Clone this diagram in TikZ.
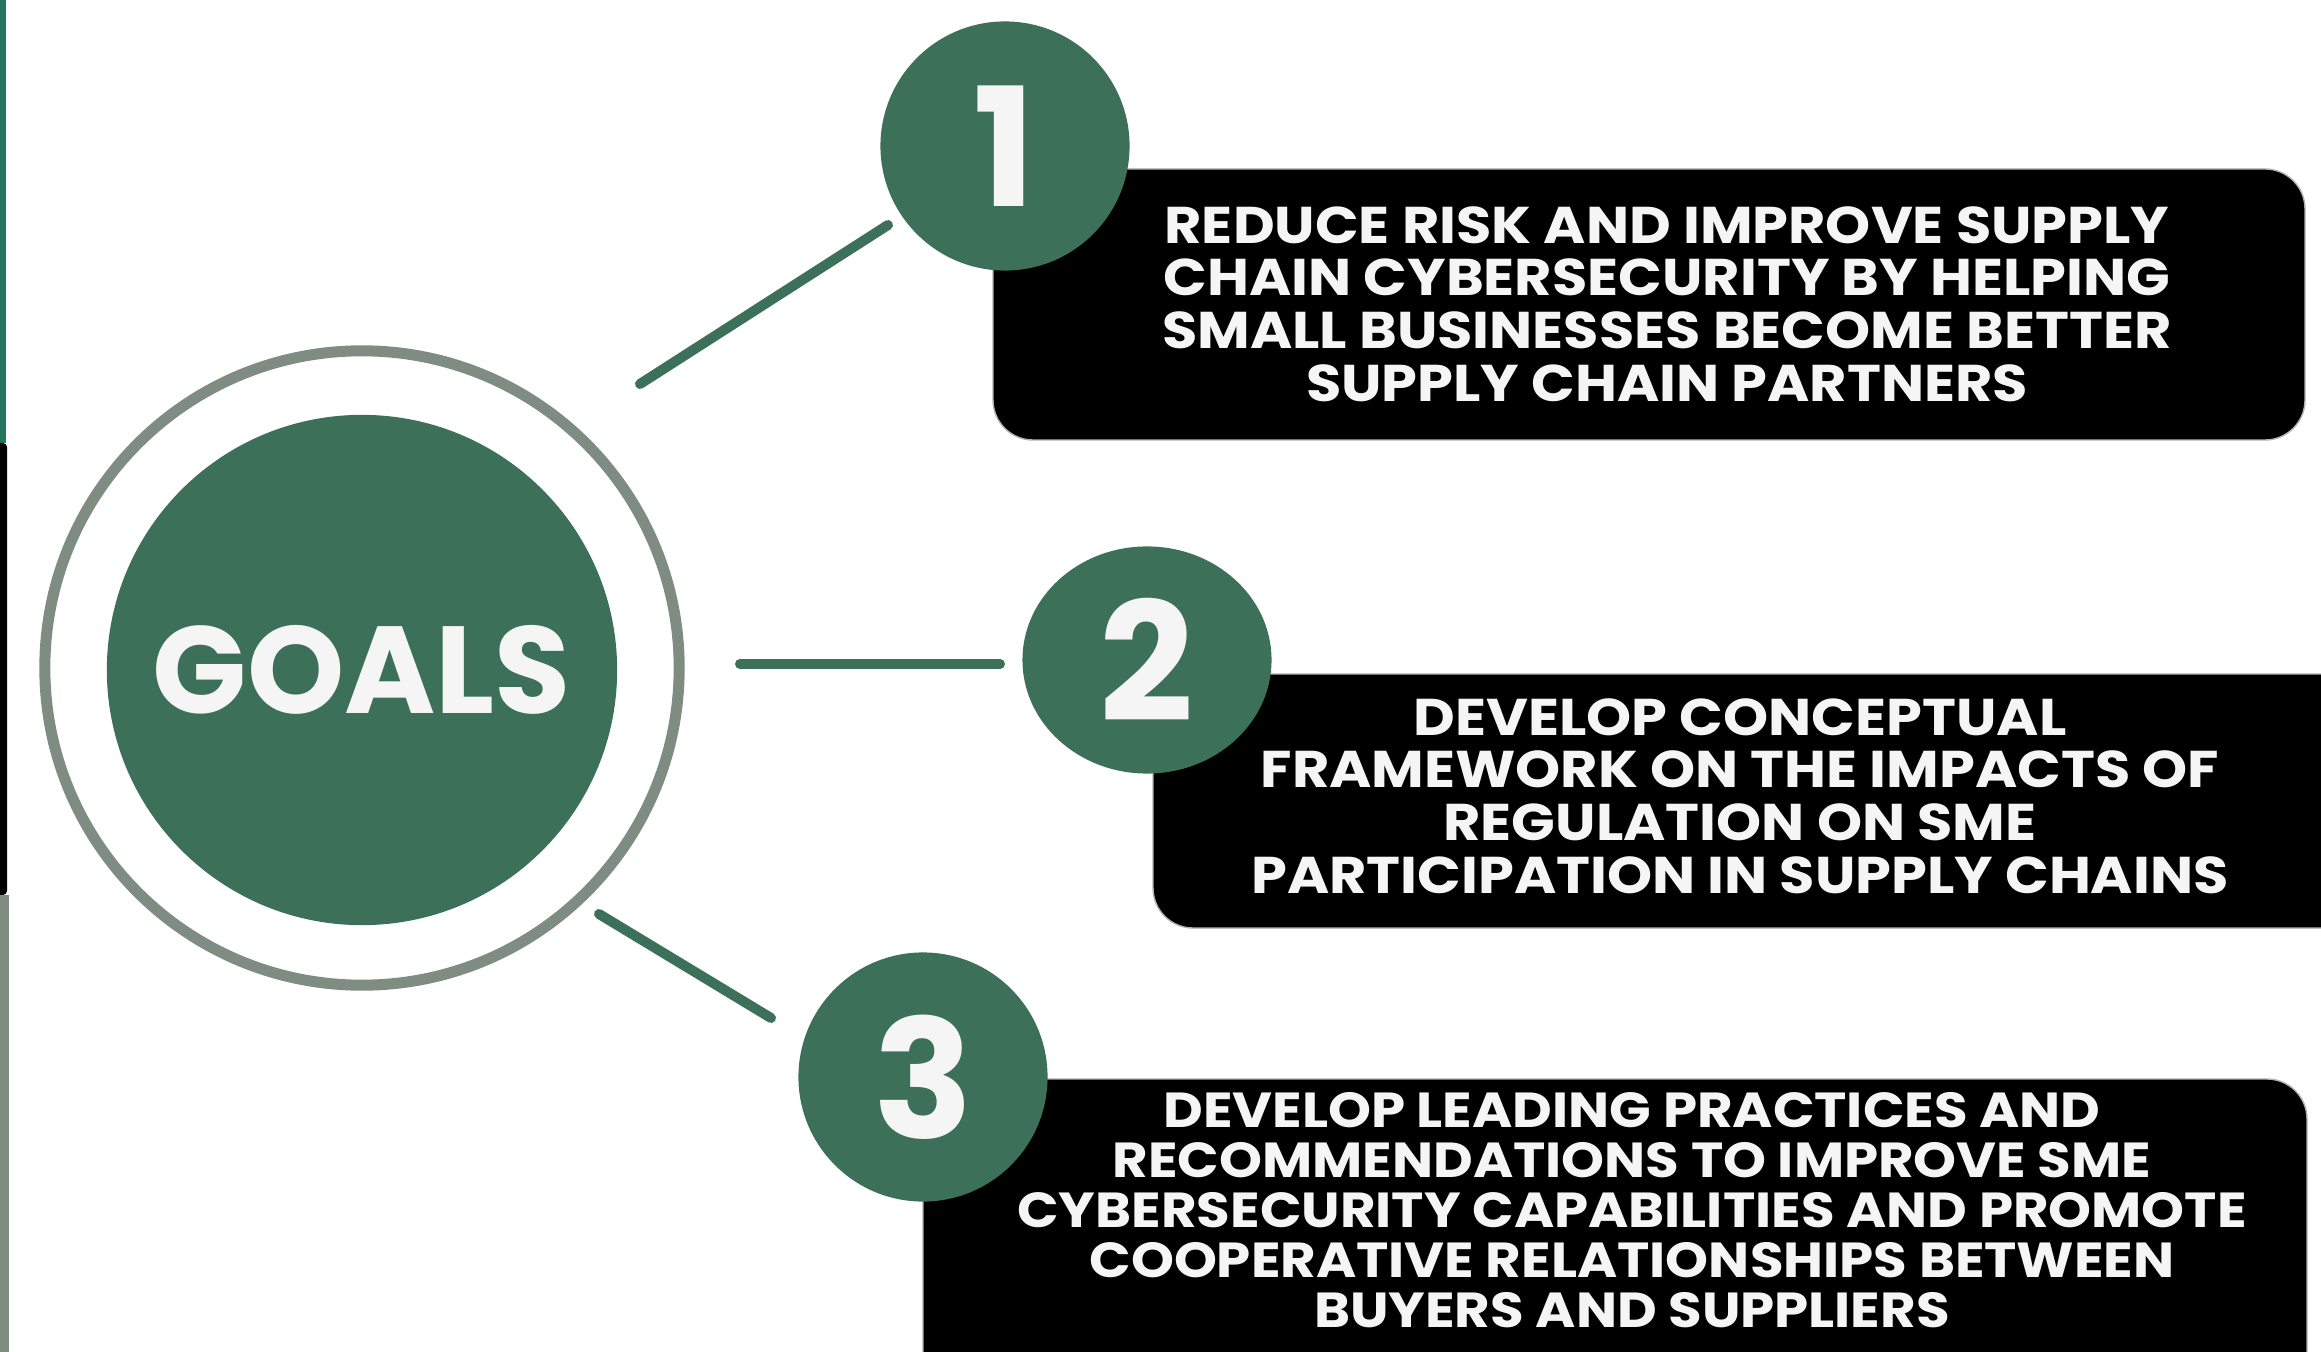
\documentclass[tikz,border=0pt]{standalone}
\usepackage{fontspec}
\setmainfont{Poppins}
\newfontfamily\widefont{Poppins}[FakeStretch=1.11]
\definecolor{GoalGreen}{HTML}{3C7059}
\definecolor{RingGray}{HTML}{7E8C81}
\definecolor{EdgeGreen}{HTML}{25765C}
\definecolor{OffWhite}{HTML}{F5F5F5}
\usetikzlibrary{shapes.geometric}

\begin{document}
\begin{tikzpicture}[x=0.01cm, y=-0.01cm,
    bubble/.style={circle, fill=GoalGreen, text=OffWhite, inner sep=0pt,
      minimum size=2.49cm, font=\fontsize{47}{47}\selectfont\bfseries},
    goalbox/.style={fill=black, draw=black!30, line width=0.4pt, rounded corners=0.4cm},
    goaltext/.style={text=OffWhite, align=center, inner sep=0pt,
      font=\widefont\fontsize{14.7}{14.95}\selectfont\bfseries},
    link/.style={GoalGreen, line width=0.1cm, line cap=round}]
  \useasboundingbox (0,0) rectangle (2321,1352);
  \fill[white] (0,0) rectangle (2321,1352);
  \clip (0,0) rectangle (2321,1352);

  % page edge strips
  \fill[EdgeGreen] (0,0) rectangle (6,443);
  \fill[black, rounded corners=0.04cm] (-10,443) rectangle (7,895);
  \fill[RingGray] (0,895) rectangle (9,1352);

  % text boxes
  \fill[goalbox] (993,169) rectangle (2305,440);
  \fill[goalbox] (1153,674) rectangle (2400,928);
  \fill[goalbox] (923,1079) rectangle (2307,1400);

  \node[goaltext] (txt1) at (1667,304)
    {REDUCE RISK AND IMPROVE SUPPLY\\ CHAIN CYBERSECURITY BY HELPING\\
     SMALL BUSINESSES BECOME BETTER\\ SUPPLY CHAIN PARTNERS};
  \node[goaltext] (txt2) at (1740,796)
    {DEVELOP CONCEPTUAL\\ FRAMEWORK ON THE IMPACTS OF\\
     REGULATION ON SME\\ PARTICIPATION IN SUPPLY CHAINS};
  \node[goaltext, font=\widefont\fontsize{14}{14.2}\selectfont\bfseries] (txt3) at (1632,1210)
    {DEVELOP LEADING PRACTICES AND\\ RECOMMENDATIONS TO IMPROVE SME\\
     CYBERSECURITY CAPABILITIES AND PROMOTE\\ COOPERATIVE RELATIONSHIPS BETWEEN\\
     BUYERS AND SUPPLIERS};

  % numbered bubbles
  \node[bubble] (one) at (1005,146) {1};
  \node[bubble, ellipse, minimum width=2.49cm, minimum height=2.27cm] (two) at (1147,660) {2};
  \node[bubble] (three) at (923,1077) {3};

  % centre badge
  \node[circle, draw=RingGray, line width=0.11cm, minimum size=6.34cm] (ring) at (362,668) {};
  \node[circle, fill=GoalGreen, text=OffWhite, minimum size=5.1cm,
    font=\fontsize{35.2}{35.2}\selectfont\bfseries] (goals) at (362,670) {GOALS};

  % spokes
  \coordinate (s1) at (640,384);
  \coordinate (e1) at (888,225);
  \coordinate (s2) at (740,664);
  \coordinate (e2) at (1000,664);
  \coordinate (s3) at (599,914);
  \coordinate (e3) at (771,1018);
  \draw[link] (s1) -- (e1);
  \draw[link] (s2) -- (e2);
  \draw[link] (s3) -- (e3);
\end{tikzpicture}
\end{document}
